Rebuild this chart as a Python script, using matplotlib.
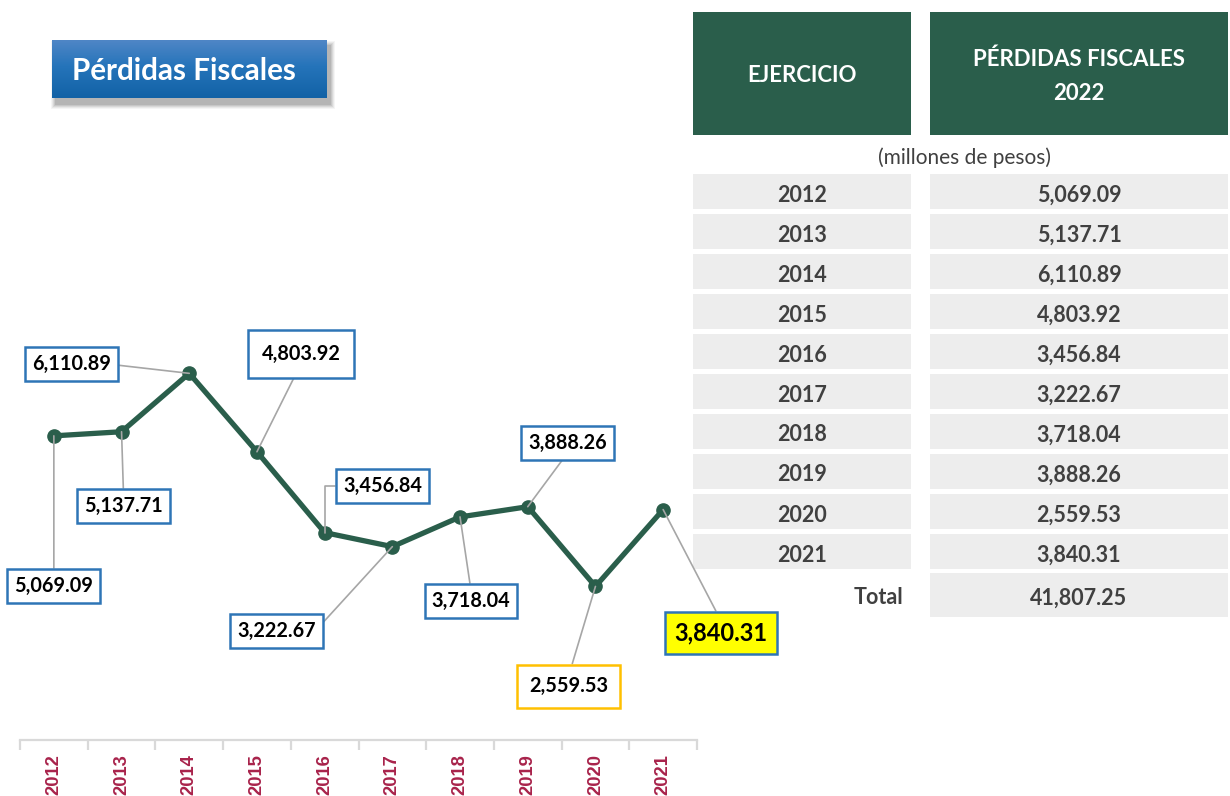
import numpy as np
import matplotlib
matplotlib.use("Agg")
import matplotlib.pyplot as plt
from matplotlib.patches import Rectangle

# ---------------- data ----------------
years = ["2012", "2013", "2014", "2015", "2016", "2017", "2018", "2019", "2020", "2021"]
perdidas = [5069.09, 5137.71, 6110.89, 4803.92, 3456.84, 3222.67, 3718.04, 3888.26, 2559.53, 3840.31]
total_label = "Total"
total_value = 41807.25
title = "Pérdidas Fiscales"
header_1 = "EJERCICIO"
header_2 = "PÉRDIDAS FISCALES\n2022"
units = "(millones de pesos)"

# ---------------- style ----------------
W, H = 1230, 796
GREEN = "#2A5E4B"
BLUE_EDGE = "#2E75B6"
ORANGE_EDGE = "#FFC000"
ROW_BG = "#EDEDED"
TXT = "#404040"
TICK_COLOR = "#A8234B"
FONT = ["Lato", "DejaVu Sans"]

plt.rcParams['font.family'] = FONT

fig = plt.figure(figsize=(W / 100, H / 100), dpi=100)


def fx(x):
    return x / W


def fy(y):
    return 1 - y / H


def rect(x0, y0, x1, y1, color, zorder=1, **kw):
    fig.add_artist(Rectangle((fx(x0), fy(y1)), (x1 - x0) / W, (y1 - y0) / H,
                             transform=fig.transFigure, facecolor=color,
                             edgecolor='none', zorder=zorder, **kw))


# ---------------- line chart ----------------
ax = fig.add_axes([fx(20), fy(740), 677 / W, 600 / H])
ax.set_zorder(2)
x = np.arange(len(years))
ax.plot(x, perdidas, color=GREEN, lw=3.8, marker='o', ms=9.5,
        solid_joinstyle='round', zorder=3)
ax.set_xlim(-0.5, len(years) - 0.5)
ax.set_ylim(0, 10000)
for s in ['top', 'left', 'right']:
    ax.spines[s].set_visible(False)
ax.spines['bottom'].set_color("#D9D9D9")
ax.spines['bottom'].set_linewidth(1.6)
ax.set_yticks([])
ax.set_xticks(np.arange(-0.5, len(years), 1))
ax.set_xticklabels([])
ax.tick_params(axis='x', which='major', length=7, width=1.6, color="#D9D9D9")
ax.set_xticks(x, minor=True)
ax.set_xticklabels(years, minor=True, rotation=90, color=TICK_COLOR,
                   fontweight='bold', fontsize=13.2,
                   family=["Liberation Sans", "DejaVu Sans"], va='top')
ax.tick_params(axis='x', which='minor', length=0, pad=10)
ax.patch.set_alpha(0)

# label offsets in pixels (box centre relative to point), relpos of leader,
# border colour, fill, padding, connector style
label_style = [
    ((0, -150), (0.5, 1.0), BLUE_EDGE, "white", 0.35, "arc3"),
    ((2, -74), (0.5, 1.0), BLUE_EDGE, "white", 0.35, "arc3"),
    ((-118, 9), (1.0, 0.5), BLUE_EDGE, "white", 0.35, "arc3"),
    ((44, 98), (0.5, 0.0), BLUE_EDGE, "white", 0.7, "arc3"),
    ((58, 47), (0.0, 0.5), BLUE_EDGE, "white", 0.35, "angle,angleA=0,angleB=90,rad=0"),
    ((-116, -84), (1.0, 0.5), BLUE_EDGE, "white", 0.35, "arc3"),
    ((11, -84), (0.5, 1.0), BLUE_EDGE, "white", 0.35, "arc3"),
    ((40, 64), (0.5, 0.0), BLUE_EDGE, "white", 0.35, "arc3"),
    ((-27, -100), (0.5, 1.0), ORANGE_EDGE, "white", 0.6, "arc3"),
    ((58, -123), (0.5, 1.0), BLUE_EDGE, "#FFFF00", 0.4, "arc3"),
]
for i, (val, (off, rp, ec, fc, pad, cs)) in enumerate(zip(perdidas, label_style)):
    big = (i == len(perdidas) - 1)
    ax.annotate(f"{val:,.2f}", xy=(i, val), xytext=off, textcoords='offset pixels',
                ha='center', va='center', fontsize=17 if big else 14.3,
                fontweight='bold', color='black',
                bbox=dict(boxstyle=f"square,pad={pad}", fc=fc, ec=ec, lw=1.8),
                arrowprops=dict(arrowstyle='-', color="#A6A6A6", lw=1.2,
                                relpos=rp, shrinkA=0, shrinkB=0,
                                connectionstyle=cs),
                zorder=4, annotation_clip=False)

# ---------------- title button ----------------
for k, a in enumerate([0.05, 0.07, 0.09, 0.11, 0.13]):
    d = 5 - k
    rect(52 + 4 - d, 40 + 6 - d, 326 + 4 + d, 98 + 6 + d, "#404040",
         zorder=-1, alpha=a)
tax = fig.add_axes([fx(52), fy(98), (326 - 52) / W, (98 - 40) / H])
tax.set_zorder(5)
stops = np.array([[0x4F, 0x86, 0xC6], [0x25, 0x74, 0xBA], [0x12, 0x62, 0xA6]]) / 255
g = np.linspace(0, 1, 64)
grad = np.stack([np.interp(g, [0, 0.45, 1], stops[:, c]) for c in range(3)], axis=-1)
tax.imshow(grad[:, None, :], aspect='auto', extent=[0, 1, 0, 1], origin='upper',
           interpolation='bilinear')
tax.set_axis_off()
fig.text(fx(72), fy(71), title, ha='left', va='center', color='white',
         fontsize=21.3, fontweight='bold', zorder=10)

# ---------------- table ----------------
C1 = (693, 911)
C2 = (930, 1228)
rect(C1[0], 12, C1[1], 135, GREEN)
rect(C2[0], 12, C2[1], 135, GREEN)
fig.text(fx(sum(C1) / 2), fy(76), header_1, ha='center', va='center',
         color='white', fontsize=16, fontweight='bold')
fig.text(fx(sum(C2) / 2), fy(76), header_2, ha='center', va='center',
         color='white', fontsize=16, fontweight='bold', linespacing=1.75,
         multialignment='center')
fig.text(fx(965), fy(158), units, ha='center', va='center', color=TXT,
         fontsize=15)

for i, (yr, val) in enumerate(zip(years, perdidas)):
    y0 = 174 + 40 * i
    rect(C1[0], y0, C1[1], y0 + 35, ROW_BG)
    rect(C2[0], y0, C2[1], y0 + 35, ROW_BG)
    fig.text(fx(sum(C1) / 2), fy(y0 + 21), yr, ha='center', va='center',
             color=TXT, fontsize=15.5, fontweight='bold')
    fig.text(fx(sum(C2) / 2), fy(y0 + 21), f"{val:,.2f}", ha='center',
             va='center', color=TXT, fontsize=15.5, fontweight='bold')

rect(C2[0], 573, C2[1], 617, ROW_BG)
fig.text(fx(903), fy(598), total_label, ha='right', va='center', color=TXT,
         fontsize=15.5, fontweight='bold')
fig.text(fx(sum(C2) / 2), fy(598), f"{total_value:,.2f}", ha='center',
         va='center', color=TXT, fontsize=15.5, fontweight='bold')

fig.savefig("out.png", dpi=100, facecolor='white')
